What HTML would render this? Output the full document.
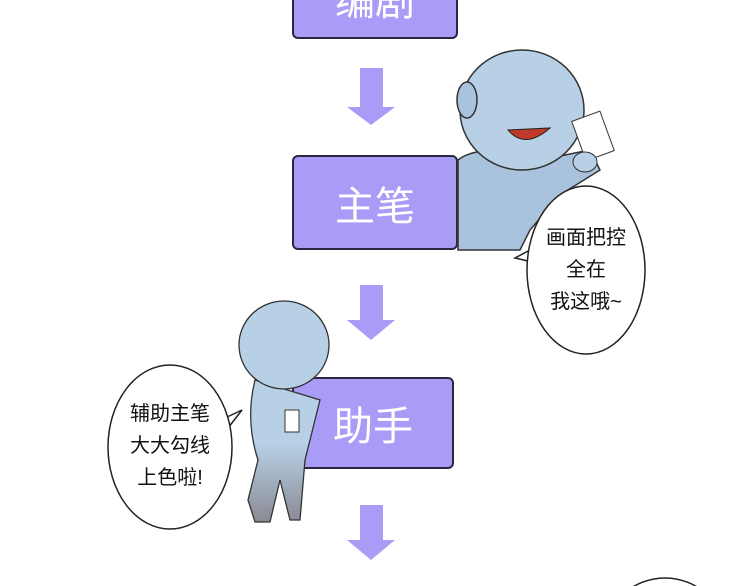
<!DOCTYPE html>
<html style="overflow:hidden"><head><meta charset="utf-8"><style>
html,body{margin:0;width:750px;height:586px;overflow:hidden}
body{background:#fff;position:relative;font-family:"Liberation Sans","Noto Sans CJK SC",sans-serif}
.box{position:absolute;background:#a99cf7;border:2px solid #2a2840;border-radius:6px;color:#fff;font-size:40px;display:flex;align-items:center;justify-content:center;box-sizing:border-box}
.t{position:absolute;font-size:20px;line-height:32px;text-align:center;color:#111}
</style></head><body>
<div class="box" style="left:292px;top:-30px;width:166px;height:69px;align-items:flex-end;padding-bottom:10px">编剧</div>
<div class="box" style="left:292px;top:155px;width:166px;height:95px">主笔</div>
<div class="box" style="left:292px;top:377px;width:162px;height:92px">助手</div>
<svg width="750" height="586" style="position:absolute;left:0;top:0;overflow:hidden">
<defs><linearGradient id="g" x1="0" y1="0" x2="0" y2="1"><stop offset="0.45" stop-color="#b7d0e6"/><stop offset="1" stop-color="#8a8a94"/></linearGradient></defs>
<g fill="#a99cf7">
<polygon points="360,68 383,68 383,107 395,107 371,125 347,107 360,107"/>
<polygon points="360,285 383,285 383,320 395,320 371,340 347,320 360,320"/>
<polygon points="360,505 383,505 383,540 395,540 371,560 347,540 360,540"/>
</g>
<path d="M458,160 Q470,150 500,150 L540,160 L590,150 L600,170 L560,195 L530,230 L520,250 L458,250 Z" fill="#a9c3dc" stroke="#333" stroke-width="1.5"/>
<ellipse cx="522" cy="110" rx="62" ry="60" fill="#b7d0e6" stroke="#333" stroke-width="1.5"/>
<ellipse cx="467" cy="100" rx="10" ry="18" fill="#a9c3dc" stroke="#333" stroke-width="1.5"/>
<path d="M508,130 Q525,150 550,128 Z" fill="#c0392b" stroke="#222"/>
<rect x="578" y="115" width="30" height="42" fill="#fff" stroke="#333" transform="rotate(-20 593 136)"/>
<ellipse cx="585" cy="162" rx="12" ry="10" fill="#b7d0e6" stroke="#333"/>
<path d="M530,250 L515,258 L532,262" fill="#fff" stroke="#222" stroke-width="1.5"/>
<ellipse cx="586" cy="270" rx="59" ry="84" fill="#fff" stroke="#222" stroke-width="1.5"/>
<path d="M255,380 Q245,420 258,460 L248,500 L255,522 L270,522 L280,480 L290,520 L300,520 L305,460 L320,400 Z" fill="url(#g)" stroke="#333" stroke-width="1.3"/>
<ellipse cx="284" cy="345" rx="45" ry="44" fill="#b7d0e6" stroke="#333" stroke-width="1.3"/>
<rect x="285" y="410" width="14" height="22" fill="#fff" stroke="#333"/>
<path d="M225,418 L242,410 L228,428" fill="#fff" stroke="#222" stroke-width="1.5"/>
<ellipse cx="170" cy="447" rx="62" ry="82" fill="#fff" stroke="#222" stroke-width="1.5"/>
<ellipse cx="665" cy="640" rx="62" ry="62" fill="#fff" stroke="#222" stroke-width="1.5"/>
</svg>
<div class="t" style="left:530px;top:222px;width:112px">画面把控<br>全在<br>我这哦~</div>
<div class="t" style="left:114px;top:398px;width:112px">辅助主笔<br>大大勾线<br>上色啦!</div>
</body></html>
